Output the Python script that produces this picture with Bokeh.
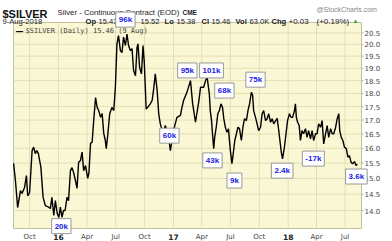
import math
import pandas as pd
from bokeh.plotting import figure
from bokeh.models import Range1d, Label
from bokeh.core.properties import value
from bokeh.embed import file_html
from bokeh.resources import INLINE

# ---------------- data ----------------
dates = [
    "2015-08-11", "2015-08-17", "2015-08-24", "2015-09-02", "2015-09-07", "2015-09-15", "2015-09-21",
    "2015-09-25", "2015-10-01", "2015-10-09", "2015-10-14", "2015-10-19", "2015-10-24", "2015-10-29",
    "2015-11-06", "2015-11-13", "2015-11-20", "2015-12-01", "2015-12-06", "2015-12-11", "2015-12-17",
    "2015-12-22", "2015-12-28", "2016-01-02", "2016-01-07", "2016-01-12", "2016-01-17", "2016-01-22",
    "2016-01-28", "2016-02-02", "2016-02-08", "2016-02-13", "2016-02-18", "2016-02-24", "2016-02-29",
    "2016-03-05", "2016-03-11", "2016-03-16", "2016-03-21", "2016-03-27", "2016-04-03", "2016-04-07",
    "2016-04-12", "2016-04-17", "2016-04-22", "2016-04-28", "2016-05-03", "2016-05-08", "2016-05-14",
    "2016-05-19", "2016-05-24", "2016-05-29", "2016-06-01", "2016-06-05", "2016-06-12", "2016-06-19",
    "2016-06-25", "2016-06-30", "2016-07-05", "2016-07-10", "2016-07-16", "2016-07-21", "2016-07-26",
    "2016-08-01", "2016-08-06", "2016-08-11", "2016-08-17", "2016-08-22", "2016-08-27", "2016-09-02",
    "2016-09-07", "2016-09-10", "2016-09-15", "2016-09-21", "2016-09-26", "2016-09-30", "2016-10-06",
    "2016-10-11", "2016-10-19", "2016-10-25", "2016-10-30", "2016-11-04", "2016-11-10", "2016-11-15",
    "2016-11-20", "2016-11-26", "2016-12-01", "2016-12-06", "2016-12-11", "2016-12-17", "2016-12-22",
    "2017-01-01", "2017-01-12", "2017-01-23", "2017-01-28", "2017-02-02", "2017-02-13", "2017-02-24",
    "2017-03-03", "2017-03-12", "2017-03-23", "2017-03-28", "2017-04-07", "2017-04-13", "2017-04-18",
    "2017-04-25", "2017-04-28", "2017-05-02", "2017-05-06", "2017-05-09", "2017-05-12", "2017-05-17",
    "2017-05-22", "2017-05-27", "2017-06-01", "2017-06-06", "2017-06-10", "2017-06-15", "2017-06-20",
    "2017-06-25", "2017-06-28", "2017-07-01", "2017-07-06", "2017-07-10", "2017-07-15", "2017-07-20",
    "2017-07-25", "2017-07-30", "2017-08-05", "2017-08-10", "2017-08-15", "2017-08-21", "2017-08-26",
    "2017-08-31", "2017-09-06", "2017-09-10", "2017-09-13", "2017-09-19", "2017-09-24", "2017-09-29",
    "2017-10-05", "2017-10-10", "2017-10-15", "2017-10-21", "2017-10-26", "2017-10-31", "2017-11-06",
    "2017-11-11", "2017-11-16", "2017-11-22", "2017-11-27", "2017-12-02", "2017-12-07", "2017-12-10",
    "2017-12-14", "2017-12-20", "2017-12-25", "2017-12-30", "2018-01-05", "2018-01-10", "2018-01-15",
    "2018-01-21", "2018-01-24", "2018-01-27", "2018-01-31", "2018-02-05", "2018-02-09", "2018-02-14",
    "2018-02-19", "2018-02-25", "2018-03-02", "2018-03-07", "2018-03-13", "2018-03-18", "2018-03-23",
    "2018-03-29", "2018-04-03", "2018-04-08", "2018-04-14", "2018-04-19", "2018-04-24", "2018-04-30",
    "2018-05-05", "2018-05-10", "2018-05-16", "2018-05-21", "2018-05-26", "2018-06-01", "2018-06-06",
    "2018-06-11", "2018-06-14", "2018-06-19", "2018-06-24", "2018-06-29", "2018-07-05", "2018-07-10",
    "2018-07-15", "2018-07-20", "2018-07-25", "2018-07-31", "2018-08-05", "2018-08-09",
]
prices = [
    15.49, 14.93, 14.09, 14.61, 14.52, 14.71, 15.09,
    14.45, 14.55, 15.92, 16.04, 15.82, 15.92, 15.82,
    15.36, 14.40, 14.15, 14.10, 14.06, 14.40, 13.85,
    14.30, 13.91, 13.79, 14.10, 13.80, 14.00, 14.00,
    14.40, 14.30, 15.25, 15.35, 15.19, 14.93, 14.68,
    15.53, 15.59, 15.87, 15.25, 15.42, 15.00, 15.19,
    16.17, 16.21, 16.98, 17.84, 17.47, 17.35, 17.10,
    17.24, 16.52, 16.27, 15.99, 16.38, 17.23, 17.47,
    17.35, 18.24, 20.02, 20.38, 19.73, 19.65, 20.31,
    19.95, 20.45, 19.95, 19.73, 19.82, 18.91, 18.70,
    19.87, 20.02, 19.04, 18.77, 19.95, 19.25, 17.41,
    17.47, 17.60, 17.73, 18.19, 18.77, 18.11, 17.23,
    16.86, 16.62, 16.62, 16.80, 16.62, 16.33, 15.92,
    16.62, 17.10, 17.17, 17.47, 17.73, 18.05, 18.50,
    17.60, 16.92, 17.73, 18.24, 18.24, 18.50, 18.64,
    17.98, 17.35, 16.98, 16.38, 15.99, 16.38, 16.74,
    17.23, 17.35, 17.60, 17.47, 17.05, 16.74, 16.56,
    16.68, 16.27, 15.92, 15.48, 15.81, 16.27, 16.50,
    16.74, 16.69, 16.27, 16.74, 17.05, 16.98, 17.35,
    17.60, 18.05, 17.92, 17.35, 17.10, 16.86, 16.62,
    16.74, 17.23, 17.35, 16.98, 17.05, 17.23, 16.92,
    17.05, 16.86, 16.98, 17.06, 16.62, 16.15, 15.87,
    15.64, 16.04, 16.50, 16.98, 17.23, 17.10, 17.10,
    17.35, 17.60, 17.10, 16.92, 16.80, 16.27, 16.62,
    16.51, 16.69, 16.38, 16.62, 16.33, 16.62, 16.27,
    16.51, 16.51, 16.86, 16.74, 16.98, 16.15, 16.51,
    16.80, 16.38, 16.69, 16.51, 16.51, 16.74, 17.05,
    17.23, 16.62, 16.38, 16.27, 16.04, 15.99, 15.70,
    15.75, 15.53, 15.48, 15.55, 15.42, 15.46,
]

y_ticks = [14.0, 14.5, 15.0, 15.5, 16.0, 16.5, 17.0, 17.5, 18.0, 18.5, 19.0, 19.5, 20.0, 20.5]
y_tick_labels = ["14.0", "14.5", "15.0", "15.5", "16.0", "16.5", "17.0", "17.5", "18.0", "18.5",
                 "19.0", "19.5", "20.0", "20.5"]
month_ticks = ["2015-10-01", "2016-04-01", "2016-07-01", "2016-10-01",
               "2017-04-01", "2017-07-01", "2017-10-01", "2018-04-01", "2018-07-01"]
month_names = ["Oct", "Apr", "Jul", "Oct", "Apr", "Jul", "Oct", "Apr", "Jul"]
year_ticks = ["2016-01-01", "2017-01-01", "2018-01-01"]
year_names = ["16", "17", "18"]

# volume-change annotations
ann_texts = ["96k", "95k", "101k", "68k", "60k", "43k", "9k", "75k", "2.4k", "-17k", "3.6k", "20k"]
ann_dates = ["2016-08-01", "2017-02-14", "2017-05-02", "2017-06-12", "2016-12-19", "2017-05-05",
             "2017-07-14", "2017-09-19", "2017-12-13", "2018-03-22", "2018-08-06", "2016-01-10"]
ann_prices = [21.09, 18.91, 18.91, 18.11, 16.44, 15.59, 14.93, 18.54, 15.25, 15.65, 15.06, 13.54]

# ---------------- layout ----------------
W, H = 392, 241
FL, FR, FT, FB = 13, 361, 22, 228          # chart panel inside the canvas (pixels)
x0 = pd.Timestamp("2016-01-01") - pd.Timedelta(days=143.2)
x1 = pd.Timestamp("2016-01-01") + pd.Timedelta(days=964.3)
ylo, yhi = 13.47, 20.96


def ms(d):
    return pd.Timestamp(d).value / 1e6


X0, X1 = ms(x0), ms(x1)


def px_x(px):
    return X0 + (px - FL) / (FR - FL) * (X1 - X0)


def px_y(py):
    return math.exp(math.log(ylo) + (FB - py) / (FB - FT) * (math.log(yhi) - math.log(ylo)))


p = figure(width=W, height=H, output_backend="svg", toolbar_location=None,
           x_axis_type="datetime", y_axis_type="log",
           x_axis_location=None, y_axis_location=None,
           x_range=Range1d(px_x(0), px_x(W)), y_range=Range1d(px_y(H), px_y(0)),
           min_border_left=0, min_border_right=0, min_border_top=0, min_border_bottom=0)
p.xgrid.visible = False
p.ygrid.visible = False
p.outline_line_color = None
p.background_fill_color = "white"
p.border_fill_color = "white"

GRID = "#E3DFB4"
# chart panel
p.quad(left=[X0], right=[X1], bottom=[ylo], top=[yhi], fill_color="#FAF7D4",
       line_color="#C4C09C", line_width=1)
# horizontal grid
p.segment(x0=[X0] * len(y_ticks), x1=[X1] * len(y_ticks), y0=y_ticks, y1=y_ticks,
          line_color=GRID, line_width=1)
# vertical grid
vt = [ms(d) for d in month_ticks + year_ticks]
p.segment(x0=vt, x1=vt, y0=[ylo] * len(vt), y1=[yhi] * len(vt), line_color=GRID, line_width=1)

# price line
dts = pd.to_datetime(dates)
p.line(dts, prices, line_color="black", line_width=1.4)

# right-hand price scale
p.segment(x0=[px_x(FR)] * len(y_ticks), x1=[px_x(FR + 2)] * len(y_ticks), y0=y_ticks, y1=y_ticks,
          line_color="#AAAAAA", line_width=1)
p.text(x=[px_x(FR + 3)] * len(y_ticks), y=y_ticks, text=y_tick_labels,
       text_font=value("DejaVu Sans"), text_font_size=value("7px"), text_color="#444444",
       text_align="left", text_baseline="middle")

# time scale
lab_y = px_y(236.5)
p.text(x=[ms(d) for d in month_ticks], y=[lab_y] * len(month_ticks), text=month_names,
       text_font=value("DejaVu Sans"), text_font_size=value("7px"), text_color="#444444",
       text_align="center", text_baseline="alphabetic")
p.text(x=[ms(d) for d in year_ticks], y=[lab_y] * len(year_ticks), text=year_names,
       text_font=value("DejaVu Sans"), text_font_size=value("7.5px"), text_font_style="bold",
       text_color="#222222", text_align="center", text_baseline="alphabetic")


def hdr(px, py, text, size="8px", style="normal", color="#222222", font="Liberation Sans"):
    p.add_layout(Label(x=px_x(px), y=px_y(py), text=text, text_font=font, text_font_size=size,
                       text_font_style=style, text_color=color, text_align="left",
                       text_baseline="alphabetic"))


# header row 1
hdr(2, 13, "$SILVER", size="11px", style="bold", color="#111111")
hdr(57, 12, "Silver - Continuous Contract (EOD)", size="7.8px")
hdr(182, 12, "CME", size="6.5px", style="bold")
hdr(316, 9, "@StockCharts.com", size="7px", color="#888888")
# header row 2
R2 = 20.5
hdr(2, R2, "9-Aug-2018", size="7.6px")
hdr(85, R2, "Op", size="7.6px", style="bold")
hdr(98, R2, "15.43", size="7.6px")
hdr(121, R2, "Hi", size="7.6px", style="bold")
hdr(140, R2, "15.52", size="7.6px")
hdr(164, R2, "Lo", size="7.6px", style="bold")
hdr(176, R2, "15.38", size="7.6px")
hdr(201, R2, "Cl", size="7.6px", style="bold")
hdr(211, R2, "15.46", size="7.6px")
hdr(235, R2, "Vol", size="7.6px", style="bold")
hdr(249, R2, "63.0K", size="7.6px")
hdr(271, R2, "Chg", size="7.6px", style="bold")
hdr(288, R2, "+0.03", size="8px")
hdr(316, R2, "(+0.19%)", size="8px")
hdr(352, 20, "\u25b2", size="6px", color="#2E9E2E")

# legend inside the panel
hdr(15, 30.5, "\u2014", size="8px", style="bold", color="#000000", font="DejaVu Sans")
hdr(25, 30, "$SILVER (Daily) 15.46 (9 Aug)", size="7px", color="#444444", font="DejaVu Sans Mono")

# annotation boxes
for t, d, v in zip(ann_texts, ann_dates, ann_prices):
    p.add_layout(Label(x=ms(d), y=v, text=t, text_font="Liberation Sans", text_font_size="8px",
                       text_font_style="bold", text_color="#1A1AE6", text_align="center",
                       text_baseline="middle", background_fill_color="white",
                       border_line_color="#999999", padding=3))

open("out.html", "w").write(file_html(p, INLINE))
